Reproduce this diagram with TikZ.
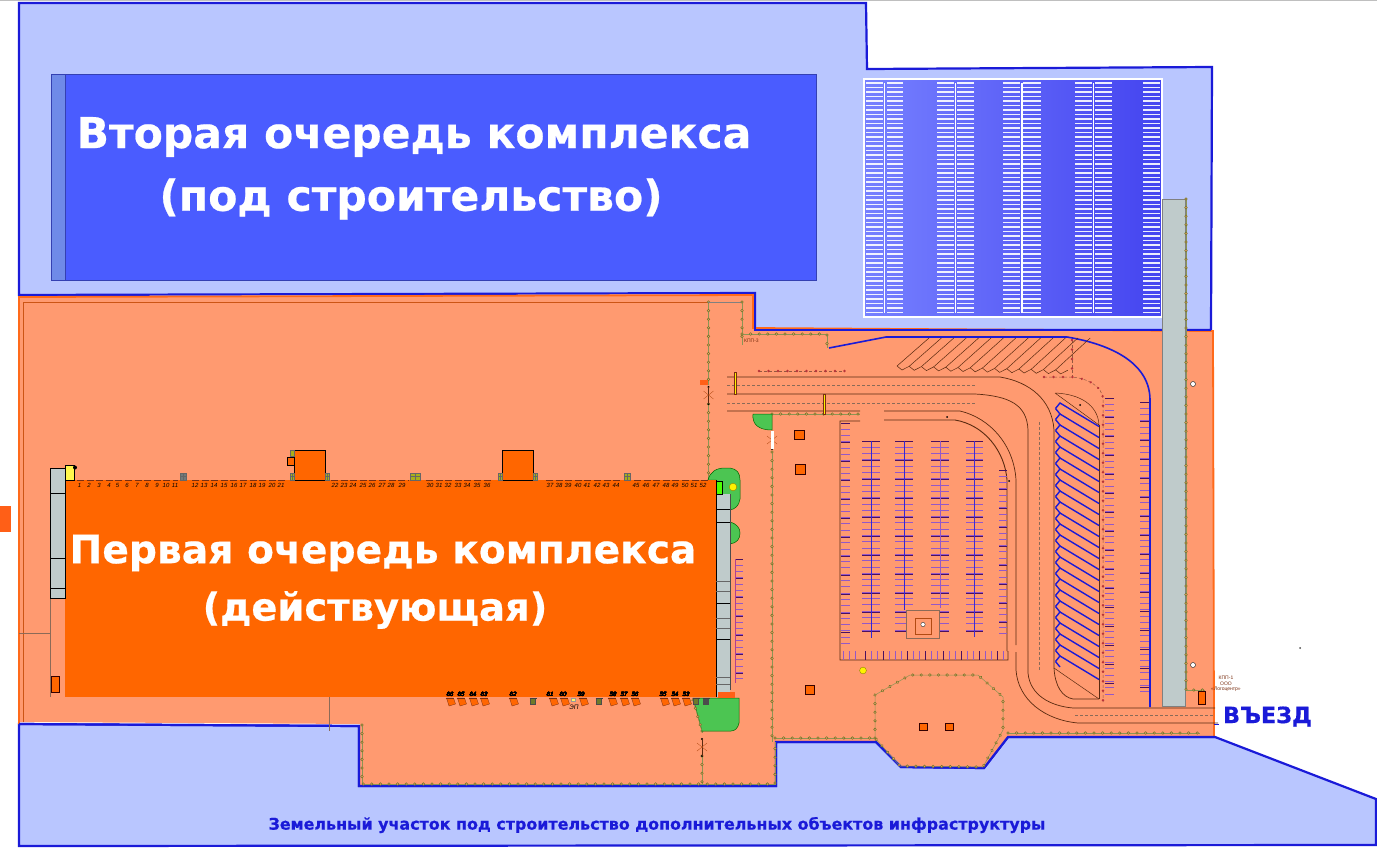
\documentclass[tikz,border=0pt]{standalone}
\usepackage{fontspec}
\setmainfont{Liberation Sans}
\newfontfamily\titlefont{DejaVu Sans}[BoldFont={DejaVu Sans Bold},BoldFeatures={FakeBold=0.5}]
\usetikzlibrary{decorations.markings,calc}
\definecolor{landblue}{HTML}{B9C6FF}
\definecolor{edgeblue}{HTML}{1A1AD8}
\definecolor{siteorange}{HTML}{FF9A70}
\definecolor{edgeorange}{HTML}{FF6A1A}
\definecolor{bldorange}{HTML}{FF6600}
\definecolor{bigblue}{HTML}{4A5CFF}
\definecolor{bandblue}{HTML}{6F8AE8}
\definecolor{stripgray}{HTML}{BFCBCB}
\definecolor{fenceolive}{HTML}{6E7A2A}
\definecolor{grassgreen}{HTML}{4CC552}
\definecolor{roadbrown}{HTML}{5A2A10}
\definecolor{tickviolet}{HTML}{9458C8}
\definecolor{tickdark}{HTML}{4A1060}
\definecolor{dockbrown}{HTML}{7A2E10}
\definecolor{dotred}{HTML}{B8343A}
\definecolor{parkleft}{HTML}{7680FF}
\definecolor{parkright}{HTML}{4444F0}
\tikzset{
  land/.style={fill=landblue,draw=edgeblue,line width=2.2pt,line join=miter},
  bld/.style={fill=bldorange,draw=black,line width=.9pt},
  sq/.style={fill=bldorange,draw=black!80!red,line width=.9pt},
  road/.style={draw=roadbrown,line width=.7pt},
  centre/.style={draw=roadbrown!70,line width=.4pt,dash pattern=on 3pt off 2pt},
  fence/.style={draw=fenceolive!80,line width=.5pt,postaction={decorate,decoration={markings,
     mark=between positions 0 and 1 step 8.6pt with {\fill[siteorange,draw=fenceolive,line width=.55pt] (0,0) circle (1.3pt);}}}},
  redfence/.style={draw=dockbrown!80,line width=.5pt,densely dashed,postaction={decorate,decoration={markings,
     mark=between positions 0 and 1 step 9.5pt with {\fill[dotred] (0,0) circle (1.3pt);}}}},
  maintitle/.style={text=white,font=\titlefont\bfseries\fontsize{42.5}{46}\selectfont,inner sep=0pt,anchor=center},
  dockno/.style={font=\itshape\fontsize{6}{6}\selectfont,text=black,inner sep=0pt},
  kpp/.style={font=\fontsize{5}{5.6}\selectfont,text=dockbrown,inner sep=0pt,align=center},
  grass/.style={fill=grassgreen,draw=black!60!green,line width=.5pt},
  gatebar/.style={draw=dockbrown,fill=yellow,line width=.4pt},
}
\newcommand{\tickcol}[4]{%
  \foreach \yy in {#3,\the\numexpr#3+6\relax.3,...,#4} \draw[tickviolet,line width=.9pt] (#1,\yy)--(#2,\yy);
  \foreach \yy in {#3,\the\numexpr#3+19\relax,...,#4} \draw[tickdark,line width=.8pt] (#1,\yy)--(#2,\yy);}
\newcommand{\dockb}[1]{%
  \fill[bldorange,draw=dockbrown,line width=.3pt] (#1-3.5,698)--(#1+3.5,698)--(#1+5.5,704)--(#1-1,706)--cycle;
  \draw[dockbrown,line width=.9pt] (#1-4.5,698)--(#1+3.5,698);}
\newcommand{\minidoor}[2]{%
  \fill[#2,draw=black!70,line width=.4pt] (#1-2.5,698) rectangle (#1+2.5,704);
  \draw[black!75,line width=.9pt] (#1-3.5,698)--(#1+3.5,698);}
\newcommand{\gridbox}[3]{%
  \fill[#3,draw=black!60,line width=.4pt] (#1,473) rectangle (#2,480);
  \draw[black!60,line width=.3pt] (#1,476.5)--(#2,476.5) ({(#1+#2)/2},473)--({(#1+#2)/2},480);}
\newcommand{\gatecross}[2]{%
  \fill[black] (#1,#2-8) circle (1.2pt) (#1,#2+9) circle (1.2pt);
  \draw[roadbrown,line width=.5pt] (#1,#2-8)--(#1,#2+9);
  \draw[edgeorange!70!black,line width=.3pt] (#1-5,#2-4)--(#1+5,#2+4) (#1-5,#2+4)--(#1+5,#2-4);}
\begin{document}
\begin{tikzpicture}[x=1pt,y=-1pt]
\useasboundingbox (0,0) rectangle (1377,849);
\fill[white] (0,0) rectangle (1377,849);
\draw[black!25,line width=.4pt] (0,0.3)--(1377,0.3);

% land plots
\draw[land] (19,3)--(866,3)--(867,69)--(1212,67)--(1211,330)--(755,330)--(755,293)--(19,295)--cycle;
\draw[land] (19,724)--(359,726)--(359,786)--(776,786)--(776,742)--(876,742)--(901,767)--(984,768)--(1008,737)--(1215,737)--(1376,799)--(1376,845)--(19,846)--cycle;
\fill[siteorange] (19,297)--(753,295)--(753,328)--(1213,331)--(1214,736)--(1008,736)--(984,767)--(902,766)--(876,741)--(775,741)--(775,785)--(360,785)--(360,724)--(19,722)--cycle;
\draw[edgeorange,line width=1.8pt] (19,724)--(19,297)--(753,295)--(753,328)--(1213,331)--(1214,736);
\draw[edgeblue,line width=2.2pt] (19,724)--(359,726)--(359,786)--(776,786)--(776,742)--(876,742)--(901,767)--(984,768)--(1008,737)--(1215,737);
\draw[edgeblue,line width=2.2pt] (755,293)--(755,330)--(1211,330);
\draw[edgeorange!80!black,line width=.5pt] (23,722)--(23,302)--(708,302);
\draw[roadbrown!70,line width=.4pt] (19,633)--(50,633) (50,598)--(50,697) (329,697)--(329,731);

% stray marks
\fill[edgeorange!90!red] (0,506) rectangle (11,532);
\fill[black!70] (1300,648) circle (1pt);

% second stage
\fill[bigblue,draw=black!30!bigblue,line width=.4pt] (65,74) rectangle (816,280);
\fill[bandblue,draw=black!30!bigblue,line width=.4pt] (51,74) rectangle (65,280);

% big parking
\shade[left color=parkleft,right color=parkright] (864,79) rectangle (1162,317);
\draw[white,line width=1.2pt] (864,79) rectangle (1162,317);
\foreach \xa/\xb in {866/883,887/903,937/954,957/974,1003/1020,1023/1041,1075/1092,1095/1112,1143/1160}
  \foreach \yy in {83,87.5,...,312.5} \draw[white,line width=1.25pt,opacity=.9] (\xa,\yy)--(\xb,\yy);
\foreach \xx in {884.5,955.5,1022,1093.5} \draw[white,line width=1.2pt] (\xx,83)--(\xx,313);

% gray strip and its fence
\fill[stripgray,draw=black!50,line width=.4pt] (1162,199) rectangle (1185,706);
\draw[fence] (1186,199)--(1186,690)--(1205,690);

% road lines
\draw[road] (727,377)--(1000,377) .. controls (1030,382) and (1052,400) .. (1054,430)--(1054,668) .. controls (1055,686) and (1062,697) .. (1073,699)--(1099,699);
\draw[road] (727,394)--(975,394) .. controls (1010,396) and (1027,405) .. (1028,430)--(1028,673) .. controls (1030,695) and (1050,706) .. (1073,708)--(1215,708);
\draw[road] (727,411)--(860,411) (884,411)--(960,411) .. controls (990,418) and (1014,445) .. (1016,480)--(1016,645) (1016,652)--(1016,670) .. controls (1018,700) and (1045,720) .. (1078,723)--(1218,723);
\draw[edgeblue,line width=.8pt] (1214,724)--(1219,724);
\draw[centre] (727,385)--(975,385) (727,403.5)--(975,403.5) (1039,422)--(1039,670) (1075,715)--(1214,715);

% front car park
\draw[roadbrown,line width=.9pt] (860,421)--(840,421)--(840,660)--(1008,660)--(1008,651) (1007,651)--(1007,480) .. controls (1005,452) and (985,425) .. (955,420)--(884,420);
\tickcol{841}{850}{423}{645}
\tickcol{862}{880}{441}{636}
\draw[edgeblue!80!tickviolet,line width=1pt] (871,441)--(871,638);
\tickcol{895}{913}{441}{636}
\draw[edgeblue!80!tickviolet,line width=1pt] (904,441)--(904,610);
\tickcol{931}{949}{441}{636}
\draw[tickviolet,line width=1pt] (940,441)--(940,608);
\tickcol{966}{983}{441}{636}
\draw[edgeblue!70!tickviolet,line width=1pt] (974,441)--(974,637);
\tickcol{999}{1007}{470}{636}
\foreach \xx in {843,849,855,865,871,877,883,889,895,901,907,913,919,925,931,937,943,949,955,961,967,973,979,985,991,997,1003}
  \draw[tickviolet,line width=.8pt] (\xx,651)--(\xx,660);
\foreach \xx in {865,883,907,925,943,961,979,997}
  \draw[tickdark,line width=.7pt] (\xx,651)--(\xx,660);
\fill[siteorange,draw=roadbrown!70,line width=.5pt] (906,610) rectangle (939,638);
\draw[edgeorange!70!black,line width=.6pt] (915,618) rectangle (931,634);
\fill[white,draw=black!80,line width=.4pt] (923,624.5) circle (2.2pt);

% diagonal parking
\draw[road,line width=.5pt] (1055,393) .. controls (1080,394) and (1098,405) .. (1099,425) (1055,393)--(1099,425) (1054,668)--(1099,699);
\draw[roadbrown,line width=.9pt] (1099,425)--(1099,699);
\foreach \i in {0,...,23} {
  \pgfmathsetmacro{\ya}{403+\i*11}
  \draw[edgeblue,line width=1.4pt] (1055.5,{\ya+5.5})--(1060,\ya)--(1099,{\ya+23.5});
  \draw[edgeblue,line width=1.4pt] (1055.5,{\ya+5.5})--(1060,{\ya+11});
}
\tickcol{1105}{1114}{398}{695}
\tickcol{1140}{1150}{402}{695}
\draw[edgeblue,line width=1.6pt] (829,348)--(886,337)--(1067,337) .. controls (1115,345) and (1150,365) .. (1150,400)--(1150,707);
\draw[redfence] (1072,340)--(1072,377);
\draw[redfence] (1044,377)--(1072,377) .. controls (1085,378) and (1103,385) .. (1103,400)--(1103,702);

% top hatch
\foreach \i in {0,...,13} {
  \pgfmathsetmacro{\xa}{897+\i*12.2}
  \draw[road,line width=.5pt] (\xa,{366+\i*.3})--({\xa+32+\i*.2},338);
  \draw[road,line width=.5pt] (\xa,{366+\i*.3})--({\xa+5},{370+\i*.3})--({\xa+12.2},{366+(\i+1)*.3});
}

% fences
\draw[fence] (708.5,302)--(708.5,385);
\draw[fence] (708.5,404)--(708.5,480);
\gatecross{708.5}{395}
\draw[draw=black!50,line width=.4pt] (708,302)--(742,302);
\draw[fence] (742,302)--(742,345);
\draw[fence] (742,334)--(827,334)--(827,348);
\draw[fence] (772,414)--(860,414);
\draw[fence] (772,452)--(772,742);
\draw[fence] (775,738)--(875,738);
\draw[fence] (875,738)--(875,695)--(910,675)--(978,675)--(1003,697)--(1003,730)--(983,767)--(900,766)--(875,738);
\draw[fence] (1008,733)--(1200,733);
\draw[fence] (362,725)--(362,784)--(775,784)--(775,742);
\draw[fence] (702,731)--(702,733);
\draw[fence] (702,756)--(702,785);
\gatecross{702}{747}
\draw[redfence] (759,371)--(845,371);

% grass
\draw[grass] (772,414)--(753,414) .. controls (752,424) and (758,430) .. (772,430)--cycle;
\draw[grass] (708,480) .. controls (710,472) and (716,468) .. (725,468)--(730,468) .. controls (737,469) and (740,473) .. (740,480)--(740,499) .. controls (739,506) and (735,509) .. (730,510)--(716,510)--(716,480)--cycle;
\draw[grass] (730,522) .. controls (737,524) and (740,528) .. (740,533) .. controls (740,539) and (737,543) .. (730,544)--cycle;
\draw[grass] (693,698)--(739,698)--(739,723) .. controls (738,728) and (735,731) .. (731,731)--(702,731)--cycle;
\draw[fence] (693,700)--(702,731);

% first stage
\fill[bldorange] (65,480) rectangle (716,697);
\draw[bld] (294,450) rectangle (325,480);
\draw[bld] (502,450) rectangle (533,480);
\draw[bld] (287,457) rectangle (294,465);
\fill[stripgray,draw=black,line width=.7pt] (50,468) rectangle (65,598);
\draw[black,line width=.7pt] (50,493)--(65,493) (50,558)--(65,558) (50,588)--(65,588);
\fill[yellow!70!white,draw=black,line width=.6pt] (65,465) rectangle (74,480);
\fill[black] (75,467.5) circle (2pt);
\fill[stripgray] (716,494) rectangle (730,697);
\draw[black,line width=.7pt] (716,480)--(716,697);
\draw[black!70,line width=.5pt] (730,494)--(730,690);
\foreach \yy in {509,522,603,639} \draw[black,line width=.7pt] (716,\yy)--(730,\yy);
\foreach \yy in {581,591,618,628,677,684} \draw[black!60,line width=.6pt] (716,\yy)--(730,\yy);
\fill[green!70!yellow,draw=black,line width=.7pt] (716,481) rectangle (722,494);
\fill[edgeorange!90!red] (718,692) rectangle (735,698);
\tickcol{735}{743}{559}{683}
\draw[tickviolet!70!red,line width=.7pt] (735,559)--(735,683);

% dock dashes
\foreach \xa/\xb in {77/178,192/287,331/408,426/491,546/620,634/708}
  \draw[dockbrown,line width=1pt,dash pattern=on 7pt off 2.6pt] (\xa,480)--(\xb,480);
\gridbox{180}{186}{black!40!stripgray}
\gridbox{410}{420}{fenceolive!60!yellow}
\gridbox{624}{630}{fenceolive!60!yellow}
\gridbox{290}{294}{fenceolive!60!yellow}
\gridbox{325}{329}{fenceolive!60!yellow}
\gridbox{498}{502}{fenceolive!60!yellow}
\gridbox{533}{537}{fenceolive!60!yellow}
\fill[fenceolive!60!yellow,draw=black!60,line width=.3pt] (290,450) rectangle (294,456);
\foreach \n/\xx in {1/79.6,2/89,3/99,4/109,5/117.5,6/127,7/137,8/147,9/157,10/166,11/175,12/195,13/204,14/214,15/224,16/234,17/243,18/253,19/262,20/272,21/281,22/335,23/344,24/353,25/363,26/372,27/382,28/391,29/402,30/430,31/439,32/448,33/458,34/467,35/477,36/487,37/550,38/559,39/568,40/578,41/587,42/597,43/606,44/616,45/636,46/646,47/656,48/666,49/675,50/685,51/694,52/703}
  \node[dockno] (up\n) at (\xx,485) {\n};

% rear docks
\foreach \xx in {450,461,473,484,513,553,564,583,612,624,635,664,675,686} \dockb{\xx}
\foreach \n/\xx in {66/450,65/461,64/473,63/484,62/513,61/550,60/563,59/581,58/613,57/624,56/635,55/663,54/675,53/686}
  \node[dockno] (dn\n) at (\xx,694) {\n};
\minidoor{533}{fenceolive}
\minidoor{599}{fenceolive}
\minidoor{696}{fenceolive}
\minidoor{706}{black!70}
\fill[yellow!60!white,draw=black!40,line width=.3pt] (571,698) rectangle (575,701);
\node[dockno,font=\itshape\fontsize{6.5}{7}\selectfont] (zp) at (574,707) {ЭП};

% gates and small objects
\draw[gatebar] (734,372) rectangle (736,394);
\draw[gatebar] (823,394) rectangle (825,414);
\fill[edgeorange!90!red] (700,380) rectangle (708,385);
\gatecross{772}{440}
\fill[white] (771,431) rectangle (773.5,449);
\foreach \a/\b/\c/\d in {794/430/804/439,795/464/805/474,805/685/814/694,919/723/927/730,945/723/953/730,1198/691/1205/704,51/676/59/692}
  \draw[sq] (\a,\b) rectangle (\c,\d);
\fill[yellow,draw=olive,line width=.4pt] (733,487) circle (3.8pt);
\fill[yellow,draw=olive,line width=.4pt] (863,670.5) circle (3.4pt);
\fill[white,draw=black!80,line width=.5pt] (1193,384) circle (2.5pt);
\fill[white,draw=black!80,line width=.5pt] (1193,665) circle (2.5pt);
\fill[black] (947,417) circle (1pt) (1080,405) circle (1pt) (1009,481) circle (1pt);

% texts
\node[maintitle] (second1) at (414,137) {Вторая очередь комплекса};
\node[maintitle] (second2) at (411,199) {(под строительство)};
\node[maintitle,font=\titlefont\bfseries\fontsize{39.2}{40}\selectfont] (first1) at (383,553) {Первая очередь комплекса};
\node[maintitle,font=\titlefont\bfseries\fontsize{38.5}{40}\selectfont] (first2) at (375,610) {(действующая)};
\node[inner sep=0pt,text=edgeblue,font=\titlefont\bfseries\fontsize{15.9}{17}\selectfont] (bottom) at (657,825) {Земельный участок под строительство дополнительных объектов инфраструктуры};
\node[inner sep=0pt,text=edgeblue,font=\titlefont\bfseries\fontsize{22.3}{24}\selectfont] (entry) at (1267.5,716.5) {ВЪЕЗД};
\node[kpp,anchor=west] (kpp3) at (744,341) {КПП-3};
\node[kpp] (kpp1) at (1226,684) {КПП-1\\ООО\\«Логоцентр»};
\end{tikzpicture}
\end{document}
